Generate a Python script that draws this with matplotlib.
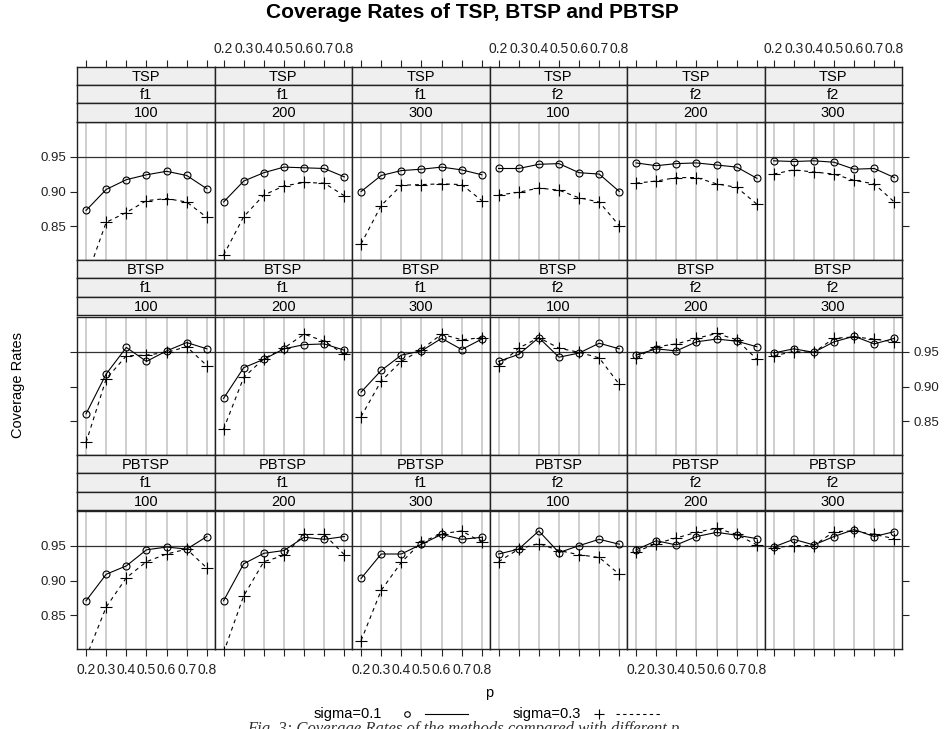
import matplotlib
matplotlib.use("Agg")
import matplotlib.pyplot as plt

plt.rcParams['font.family'] = ['Liberation Sans', 'DejaVu Sans']

# data
p = [0.2, 0.3, 0.4, 0.5, 0.6, 0.7, 0.8]
methods = ["TSP", "BTSP", "PBTSP"]
funcs = ["f1", "f1", "f1", "f2", "f2", "f2"]
sizes = ["100", "200", "300", "100", "200", "300"]

# columns: f1-100, f1-200, f1-300, f2-100, f2-200, f2-300
tsp_s01 = [
    [0.873, 0.903, 0.917, 0.924, 0.929, 0.923, 0.904],
    [0.885, 0.915, 0.927, 0.935, 0.934, 0.933, 0.921],
    [0.900, 0.923, 0.930, 0.932, 0.935, 0.931, 0.924],
    [0.933, 0.933, 0.939, 0.940, 0.927, 0.925, 0.900],
    [0.941, 0.937, 0.940, 0.941, 0.938, 0.935, 0.919],
    [0.944, 0.943, 0.944, 0.942, 0.932, 0.933, 0.920],
]
tsp_s03 = [
    [0.775, 0.856, 0.870, 0.887, 0.890, 0.885, 0.863],
    [0.809, 0.864, 0.895, 0.908, 0.913, 0.912, 0.894],
    [0.825, 0.880, 0.909, 0.910, 0.911, 0.910, 0.887],
    [0.895, 0.899, 0.905, 0.902, 0.891, 0.885, 0.851],
    [0.912, 0.915, 0.920, 0.920, 0.911, 0.906, 0.882],
    [0.925, 0.931, 0.928, 0.925, 0.916, 0.911, 0.885],
]
btsp_s01 = [
    [0.861, 0.918, 0.956, 0.936, 0.951, 0.963, 0.954],
    [0.883, 0.927, 0.939, 0.954, 0.960, 0.961, 0.952],
    [0.892, 0.923, 0.945, 0.951, 0.969, 0.953, 0.968],
    [0.936, 0.946, 0.970, 0.942, 0.948, 0.962, 0.954],
    [0.945, 0.954, 0.951, 0.964, 0.968, 0.965, 0.957],
    [0.948, 0.954, 0.949, 0.964, 0.972, 0.961, 0.969],
]
btsp_s03 = [
    [0.820, 0.911, 0.944, 0.945, 0.949, 0.957, 0.930],
    [0.839, 0.913, 0.940, 0.955, 0.975, 0.965, 0.946],
    [0.857, 0.908, 0.936, 0.953, 0.975, 0.967, 0.970],
    [0.930, 0.955, 0.970, 0.955, 0.949, 0.941, 0.903],
    [0.941, 0.957, 0.961, 0.969, 0.976, 0.967, 0.939],
    [0.944, 0.950, 0.949, 0.969, 0.971, 0.968, 0.964],
]
pbtsp_s01 = [
    [0.871, 0.909, 0.921, 0.944, 0.948, 0.945, 0.963],
    [0.871, 0.924, 0.939, 0.943, 0.962, 0.959, 0.963],
    [0.903, 0.938, 0.938, 0.952, 0.966, 0.959, 0.962],
    [0.938, 0.945, 0.971, 0.940, 0.950, 0.959, 0.952],
    [0.944, 0.957, 0.951, 0.963, 0.969, 0.965, 0.960],
    [0.948, 0.959, 0.951, 0.963, 0.973, 0.963, 0.970],
]
pbtsp_s03 = [
    [0.790, 0.862, 0.904, 0.927, 0.938, 0.945, 0.918],
    [0.797, 0.878, 0.927, 0.936, 0.966, 0.966, 0.937],
    [0.814, 0.886, 0.926, 0.955, 0.967, 0.971, 0.955],
    [0.927, 0.945, 0.953, 0.943, 0.937, 0.933, 0.909],
    [0.941, 0.953, 0.961, 0.969, 0.975, 0.966, 0.951],
    [0.947, 0.950, 0.950, 0.970, 0.971, 0.966, 0.960],
]
s01 = [tsp_s01, btsp_s01, pbtsp_s01]
s03 = [tsp_s03, btsp_s03, pbtsp_s03]

W, H = 944, 729
fig = plt.figure(figsize=(W / 100, H / 100), dpi=100)

def rect(x0, y0, x1, y1):
    # pixel box (top-left origin) -> figure fraction
    return [x0 / W, 1 - y1 / H, (x1 - x0) / W, (y1 - y0) / H]

colx = [77, 214.5, 352, 489.5, 627, 764.5, 902]
strip_top = [66.7, 260, 455]
strip_h = 18.33
panel_top = [121.7, 316.7, 510.7]
panel_bot = [260, 455, 649]
xlim = (0.155, 0.838)
ylim = (0.802, 1.0)
yt = [0.85, 0.90, 0.95]
frame = '#222222'

for r in range(3):
    for c in range(6):
        ax = fig.add_axes(rect(colx[c], panel_top[r], colx[c + 1], panel_bot[r]))
        ax.set_xlim(xlim)
        ax.set_ylim(ylim)
        for x in p:
            ax.axvline(x, color='#cccccc', lw=1.3, zorder=0)
        ax.axhline(0.95, color='#333333', lw=0.9, zorder=1)
        ax.plot(p, s01[r][c], color='black', lw=0.8, marker='o', ms=5,
                mfc='none', mec='black', mew=0.8, zorder=3)
        ax.plot(p, s03[r][c], color='black', lw=0.8, ls=(0, (3.5, 3.5)), marker='+',
                ms=8, mew=0.8, zorder=3)
        for s in ax.spines.values():
            s.set_color(frame)
            s.set_linewidth(1.0)
        ax.set_xticks(p)
        ax.set_yticks(yt)
        ax.tick_params(direction='out', length=5, width=0.8, colors='#222222',
                       top=False, labeltop=False,
                       left=(c == 0), labelleft=(c == 0 and r != 1),
                       right=(c == 5), labelright=(c == 5 and r == 1))
        ax.tick_params(axis='x', labelsize=10, pad=5,
                       bottom=(r == 2), labelbottom=(r == 2 and c % 2 == 0))
        ax.tick_params(axis='y', labelsize=9.5, pad=3)
        ax.set_xticklabels([f"{v:.1f}" for v in p])
        ax.set_yticklabels([f"{v:.2f}" for v in yt])

        labels = [methods[r], funcs[c], sizes[c]]
        for k in range(3):
            y0 = strip_top[r] + k * strip_h
            sax = fig.add_axes(rect(colx[c], y0, colx[c + 1], y0 + strip_h))
            sax.set_facecolor('#efefef')
            sax.set_xlim(xlim)
            sax.set_ylim(0, 1)
            sax.text(0.5, 0.45, labels[k], transform=sax.transAxes,
                     ha='center', va='center', fontsize=10.5)
            for s in sax.spines.values():
                s.set_color(frame)
                s.set_linewidth(1.0)
            if r == 0 and k == 0:
                sax.set_xticks(p)
                sax.set_xticklabels([f"{v:.1f}" for v in p])
                sax.tick_params(direction='out', length=5, width=0.8, colors='#222222',
                                labelsize=10, pad=3, bottom=False, labelbottom=False,
                                top=True, labeltop=(c % 2 == 1))
                sax.set_yticks([])
            else:
                sax.set_xticks([])
                sax.set_yticks([])

fig.text(472 / W, 1 - 13 / H, "Coverage Rates of TSP, BTSP and PBTSP",
         ha='center', va='center', fontsize=15, fontweight='bold')
fig.text(18 / W, 1 - 385 / H, "Coverage Rates", rotation=90,
         ha='center', va='center', fontsize=10.5)
fig.text(489 / W, 1 - 693 / H, "p", ha='center', va='center', fontsize=10.5)

# key at the bottom
ly = 1 - 714 / H
fig.text(348 / W, ly, "sigma=0.1", ha='center', va='center', fontsize=10.5)
fig.add_artist(plt.Line2D([407 / W], [ly], marker='o', ms=4, mfc='none',
                          mec='black', mew=0.8, transform=fig.transFigure))
fig.add_artist(plt.Line2D([425 / W, 468 / W], [ly, ly], color='black', lw=0.8,
                          transform=fig.transFigure))
fig.text(547 / W, ly, "sigma=0.3", ha='center', va='center', fontsize=10.5)
fig.add_artist(plt.Line2D([599 / W], [ly], marker='+', ms=7, mew=0.8,
                          color='black', transform=fig.transFigure))
fig.add_artist(plt.Line2D([616 / W, 660 / W], [ly, ly], color='black', lw=0.8,
                          ls=(0, (3, 3)), transform=fig.transFigure))

# paper caption, cut off by the bottom edge as in the source
fig.text(463 / W, 1 - 729 / H, "Fig. 3: Coverage Rates of the methods compared with different p",
         ha='center', va='center', fontsize=12, fontstyle='italic', color='#333333',
         family='Liberation Serif')

fig.savefig("out.png", dpi=100)
